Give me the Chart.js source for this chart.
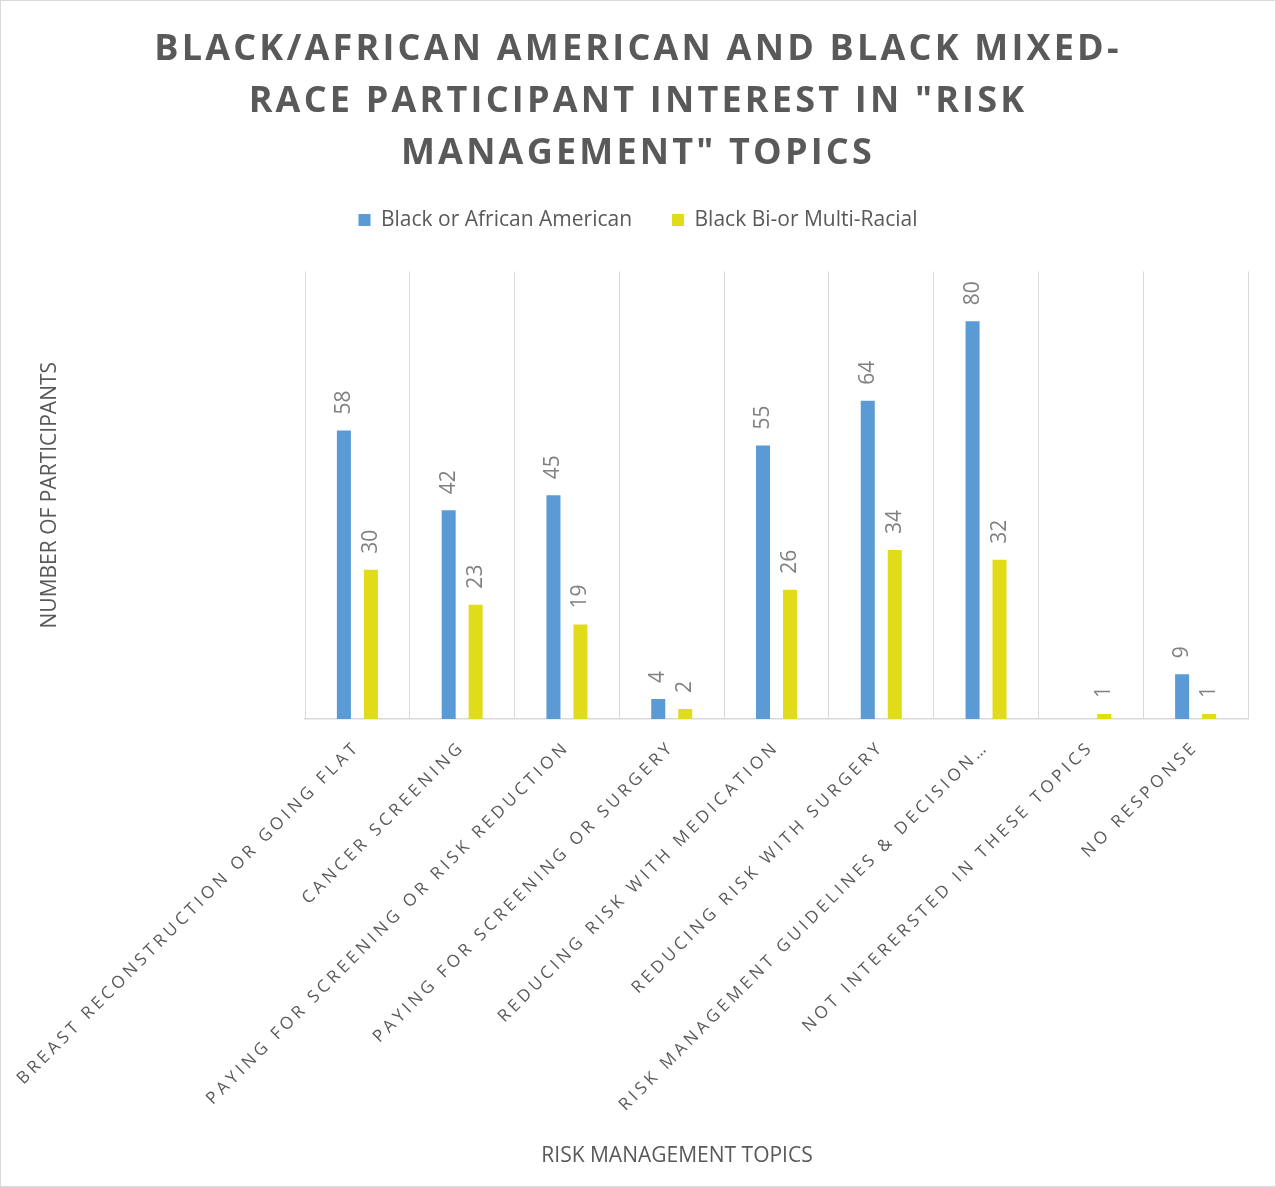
<!DOCTYPE html>
<html>
<head>
<meta charset="utf-8">
<script src="https://cdn.jsdelivr.net/npm/chart.js@4/dist/chart.umd.min.js"></script>
<style>
  html, body { margin: 0; padding: 0; background: #fff; }
  #frame { width: 1276px; height: 1187px; box-sizing: border-box; border: 1px solid #d9d9d9; }
  canvas { display: block; }
</style>
</head>
<body>
<div id="frame"><canvas id="topics" width="1274" height="1185"></canvas></div>
<script>
const topics = [
  'BREAST RECONSTRUCTION OR GOING FLAT',
  'CANCER SCREENING',
  'PAYING FOR SCREENING OR RISK REDUCTION',
  'PAYING FOR SCREENING OR SURGERY',
  'REDUCING RISK WITH MEDICATION',
  'REDUCING RISK WITH SURGERY',
  'RISK MANAGEMENT GUIDELINES & DECISION\u2026',
  'NOT INTERERSTED IN THESE TOPICS',
  'NO RESPONSE'
];
const blackAfricanAmerican = [58, 42, 45, 4, 55, 64, 80, null, 9];
const blackMultiRacial = [30, 23, 19, 2, 26, 34, 32, 1, 1];

const titleLines = [
  'BLACK/AFRICAN AMERICAN AND BLACK MIXED-',
  'RACE PARTICIPANT INTEREST IN "RISK',
  'MANAGEMENT" TOPICS'
];

const textGray = '#595959';
const gridGray = '#d9d9d9';
const FONT = '"Open Sans", "DejaVu Sans", sans-serif';

// wrap a draw method so its text gets extra tracking
function withSpacing(obj, method, px) {
  if (!obj || obj['_spaced_' + method]) return;
  const orig = obj[method];
  obj[method] = function (...args) {
    const ctx = this.ctx;
    ctx.save();
    ctx.letterSpacing = px + 'px';
    orig.apply(this, args);
    ctx.restore();
  };
  obj['_spaced_' + method] = true;
}

const trackingPlugin = {
  id: 'tracking',
  beforeUpdate(chart) {
    // leave some air between the legend row and the plot
    const legend = chart.legend;
    if (legend && !legend._padded) {
      const fit = legend.fit;
      legend.fit = function (...args) {
        fit.apply(this, args);
        this.height += 31;
      };
      legend._padded = true;
    }
  },
  beforeDraw(chart) {
    withSpacing(chart.titleBlock, 'draw', 3.2);
    withSpacing(chart.scales.x, 'drawLabels', 3.8);
  }
};

// rotated value labels above each bar
const valueLabels = {
  id: 'valueLabels',
  afterDatasetsDraw(chart) {
    const ctx = chart.ctx;
    ctx.save();
    ctx.font = '21px ' + FONT;
    ctx.fillStyle = '#808080';
    ctx.textAlign = 'left';
    ctx.textBaseline = 'middle';
    chart.data.datasets.forEach((ds, i) => {
      chart.getDatasetMeta(i).data.forEach((bar, j) => {
        const v = ds.data[j];
        if (v === null || v === undefined) return;
        ctx.save();
        ctx.translate(bar.x, bar.y - 16);
        ctx.rotate(-Math.PI / 2);
        ctx.fillText(String(v), 0, 0);
        ctx.restore();
      });
    });
    ctx.restore();
  }
};

// category axis title, sits left of the plot centre
const xAxisTitle = {
  id: 'xAxisTitle',
  afterDraw(chart) {
    const { ctx, chartArea } = chart;
    ctx.save();
    ctx.font = '21px ' + FONT;
    ctx.fillStyle = textGray;
    ctx.textAlign = 'center';
    ctx.textBaseline = 'middle';
    const x = chartArea.left + (chartArea.right - chartArea.left) * 0.3945;
    ctx.fillText('RISK MANAGEMENT TOPICS', x, chart.height - 30);
    ctx.restore();
  }
};

new Chart(document.getElementById('topics'), {
  type: 'bar',
  data: {
    labels: topics,
    datasets: [{
      label: 'Black or African American',
      data: blackAfricanAmerican,
      backgroundColor: '#5b9bd5',
      categoryPercentage: 0.515,
      barPercentage: 0.52
    }, {
      label: 'Black Bi-or Multi-Racial',
      data: blackMultiRacial,
      backgroundColor: '#e0dc1a',
      categoryPercentage: 0.515,
      barPercentage: 0.52
    }]
  },
  options: {
    responsive: false,
    animation: false,
    layout: { padding: 0 },
    plugins: {
      title: {
        display: true,
        text: titleLines,
        color: textGray,
        font: { family: FONT, size: 36, weight: 'bold', lineHeight: 1.444 },
        padding: { top: 23, bottom: -10.5 }
      },
      legend: {
        display: true,
        labels: {
          color: textGray,
          font: { family: FONT, size: 21 },
          boxWidth: 12,
          boxHeight: 12,
          padding: 40
        }
      },
      tooltip: { enabled: false }
    },
    scales: {
      x: {
        grid: { display: true, color: gridGray, offset: true, drawTicks: false },
        border: { display: true, color: gridGray, width: 1.5 },
        ticks: {
          color: textGray,
          font: { family: FONT, size: 17 },
          autoSkip: false,
          minRotation: 45,
          maxRotation: 45,
          padding: 18
        },
        afterFit(scale) {
          scale.height = 467;
          scale.paddingLeft = 0;
          scale.paddingRight = 27;
        }
      },
      y: {
        min: 0,
        max: 90,
        grid: { display: false },
        border: { display: false },
        ticks: { display: false },
        title: {
          display: true,
          text: 'NUMBER OF PARTICIPANTS',
          color: textGray,
          font: { family: FONT, size: 21 },
          padding: { top: 36, bottom: 0 }
        },
        afterFit(scale) {
          scale.width = 304;
          scale.paddingTop = 0;
          scale.paddingBottom = 0;
        }
      }
    }
  },
  plugins: [trackingPlugin, valueLabels, xAxisTitle]
});
</script>
</body>
</html>
